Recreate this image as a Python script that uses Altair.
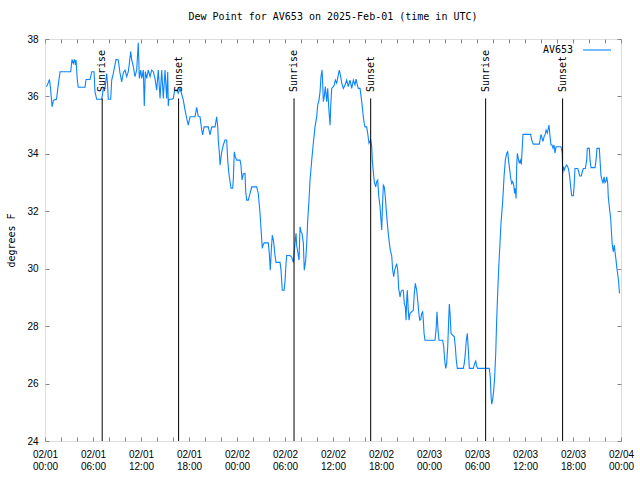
import altair as alt
import pandas as pd

# ---- data ----
hours = [0.19, 0.38, 0.56, 0.69, 0.88, 1.06, 1.44, 1.63, 1.88, 3.21, 3.38, 3.54, 3.69, 3.81, 3.88,
         4.04, 4.16, 5.00, 5.13, 5.63, 5.84, 6.13, 6.25, 6.46, 7.09, 7.29, 7.50, 7.71, 7.81, 7.91,
         8.21, 8.34, 8.54, 8.88, 9.16, 9.38, 9.59, 9.79, 10.00, 10.21, 10.41, 10.54, 10.71, 10.84,
         11.04, 11.25, 11.46, 11.66, 11.79, 11.96, 12.09, 12.29, 12.41, 12.54, 12.71, 12.91, 13.13,
         13.34, 13.54, 13.75, 13.96, 14.16, 14.38, 14.59, 14.79, 15.00, 15.21, 15.34, 15.41, 15.50,
         15.88, 16.04, 16.21, 16.50, 16.66, 16.88, 17.06, 17.29, 17.50, 17.71, 17.91, 18.13, 18.75,
         18.96, 19.16, 19.38, 19.59, 19.71, 19.88, 20.41, 20.63, 20.84, 21.25, 21.46, 21.59, 21.66,
         21.79, 21.88, 22.09, 22.29, 22.50, 22.71, 22.84, 22.96, 23.13, 23.25, 23.46, 23.54, 23.66,
         23.79, 23.96, 24.38, 24.50, 24.63, 24.79, 25.00, 25.09, 25.21, 25.41, 25.63, 25.84, 26.46,
         26.66, 26.88, 27.00, 27.16, 27.29, 27.41, 27.91, 28.04, 28.16, 28.29, 28.41, 28.54, 28.63,
         28.75, 28.88, 29.38, 29.50, 29.66, 29.88, 30.00, 30.13, 30.21, 30.63, 30.84, 31.04, 31.16,
         31.29, 31.38, 31.46, 31.59, 31.75, 31.88, 32.00, 32.13, 32.29, 32.41, 32.59, 32.71, 32.84,
         33.00, 33.13, 33.34, 33.54, 33.75, 33.96, 34.09, 34.25, 34.38, 34.50, 34.63, 34.71, 34.79,
         34.91, 35.04, 35.21, 35.34, 35.46, 35.63, 35.71, 35.84, 36.04, 36.16, 36.29, 36.46, 36.66,
         36.79, 36.96, 37.09, 37.29, 37.50, 37.71, 37.91, 38.13, 38.34, 38.54, 38.75, 38.88, 39.04,
         39.16, 39.38, 39.59, 39.79, 39.91, 40.00, 40.21, 40.34, 40.50, 40.71, 40.84, 40.91, 41.04,
         41.16, 41.34, 41.46, 41.59, 41.71, 41.88, 42.00, 42.09, 42.16, 42.29, 42.41, 42.54, 42.66,
         42.79, 42.91, 43.04, 43.16, 43.34, 43.46, 43.59, 43.71, 43.84, 43.96, 44.09, 44.21, 44.38,
         44.50, 44.63, 44.79, 44.91, 45.04, 45.13, 45.21, 45.29, 45.41, 45.50, 45.63, 45.84, 46.04,
         46.16, 46.29, 46.46, 46.59, 46.71, 46.84, 46.96, 47.09, 47.21, 47.29, 47.38, 47.50, 48.75,
         48.88, 49.00, 49.13, 49.25, 49.71, 49.84, 49.96, 50.09, 50.21, 50.34, 50.46, 50.54, 50.63,
         50.75, 50.91, 51.16, 51.29, 51.41, 51.54, 52.29, 52.41, 52.54, 52.66, 52.79, 52.91, 53.04,
         53.54, 53.71, 53.84, 53.96, 54.09, 55.54, 55.66, 55.75, 55.84, 55.96, 56.09, 56.21, 56.34,
         56.46, 56.59, 56.71, 56.84, 57.00, 57.21, 57.38, 57.54, 57.71, 57.84, 57.96, 58.09, 58.21,
         58.34, 58.46, 58.59, 58.71, 58.79, 58.88, 58.96, 59.04, 59.16, 59.29, 59.41, 59.54, 59.66,
         59.75, 60.71, 60.84, 61.04, 61.79, 61.88, 62.00, 62.13, 62.25, 62.38, 62.50, 62.63, 62.79,
         62.91, 63.00, 63.13, 63.25, 63.38, 63.50, 63.63, 63.75, 63.88, 63.96, 64.50, 64.66, 64.71,
         64.79, 64.91, 65.04, 65.21, 65.34, 65.46, 65.59, 65.71, 65.84, 66.04, 66.13, 66.25, 66.59,
         66.71, 66.84, 67.04, 67.16, 67.29, 67.54, 67.71, 67.79, 68.04, 68.13, 68.25, 68.75, 68.88,
         69.00, 69.29, 69.38, 69.50, 69.63, 69.75, 69.88, 70.00, 70.13, 70.21, 70.34, 70.41, 70.54,
         70.71, 70.79, 70.91, 71.04, 71.16, 71.25, 71.38, 71.46, 71.66, 71.75, 71.81]

dewpoint = [36.34, 36.46, 36.59, 36.30, 35.64, 35.87, 35.90, 36.34, 36.86, 36.86, 37.29, 37.15, 37.29,
            37.10, 37.27, 36.57, 36.32, 36.32, 36.59, 36.59, 36.86, 36.86, 36.16, 35.90, 35.90, 36.28,
            36.28, 36.80, 36.46, 35.90, 35.90, 36.57, 36.80, 37.29, 37.27, 36.80, 36.51, 36.83, 36.92,
            36.69, 36.86, 37.15, 37.56, 37.27, 37.04, 36.69, 36.92, 37.87, 36.63, 36.92, 36.63, 36.92,
            35.67, 36.86, 36.63, 36.92, 36.69, 36.92, 36.86, 36.63, 36.22, 36.92, 35.93, 36.92, 35.93,
            36.92, 35.93, 36.86, 35.67, 35.90, 35.90, 35.93, 36.22, 36.22, 36.11, 36.28, 36.11, 35.87,
            35.53, 35.24, 35.00, 35.29, 35.29, 35.62, 35.30, 35.29, 34.83, 34.66, 34.94, 34.94, 34.66,
            34.94, 34.94, 35.29, 34.94, 34.48, 34.07, 33.61, 34.07, 34.31, 34.48, 34.48, 33.78, 33.38,
            33.03, 32.80, 32.80, 33.10, 34.07, 33.90, 33.78, 33.78, 33.60, 33.09, 33.30, 33.32, 32.68,
            32.39, 32.39, 32.62, 32.85, 32.85, 32.62, 31.93, 31.40, 30.71, 30.85, 30.90, 30.90, 30.53,
            29.95, 30.65, 31.17, 31.00, 30.80, 30.45, 30.22, 30.22, 29.95, 29.25, 29.25, 29.55, 30.20,
            30.46, 30.46, 30.40, 30.22, 30.60, 31.00, 31.23, 30.80, 30.60, 30.30, 31.46, 31.30, 31.23,
            30.90, 29.95, 30.30, 30.85, 31.69, 32.39, 33.09, 33.78, 34.37, 34.94, 35.29, 35.70, 35.87,
            36.16, 36.69, 36.92, 36.46, 35.82, 36.00, 36.34, 35.82, 36.28, 35.64, 35.00, 35.64, 36.28,
            36.34, 36.40, 36.57, 36.46, 36.75, 36.92, 36.69, 36.46, 36.28, 36.40, 36.57, 36.34, 36.57,
            36.28, 36.57, 36.40, 36.60, 36.40, 36.28, 36.28, 35.82, 35.29, 35.06, 34.94, 34.94, 34.71,
            34.37, 34.48, 34.25, 33.78, 33.38, 33.03, 32.85, 33.03, 33.09, 32.56, 32.16, 31.69, 31.35,
            32.00, 32.91, 32.85, 32.50, 32.04, 31.58, 31.23, 30.90, 30.65, 30.45, 29.95, 29.72, 29.95,
            30.07, 30.18, 29.95, 29.31, 29.02, 29.20, 29.25, 29.25, 28.79, 28.67, 28.21, 28.90, 29.25,
            28.55, 28.21, 28.45, 28.50, 28.56, 29.13, 29.49, 29.25, 28.90, 28.50, 28.21, 28.23, 28.45,
            28.50, 28.21, 27.75, 27.51, 27.51, 27.86, 28.50, 27.86, 27.51, 27.51, 27.28, 26.82, 26.53,
            26.70, 27.28, 28.21, 28.77, 28.45, 27.75, 27.70, 27.63, 27.28, 26.82, 26.53, 26.53, 26.70,
            27.05, 27.51, 27.75, 27.20, 26.53, 26.53, 26.70, 26.78, 26.60, 26.53, 26.53, 26.23, 25.60,
            25.28, 25.45, 25.77, 26.23, 27.05, 28.21, 29.19, 30.01, 30.71, 31.58, 32.33, 33.20, 33.78,
            34.02, 34.07, 33.73, 33.44, 33.15, 32.97, 33.03, 32.90, 32.62, 32.80, 32.45, 33.55, 34.02,
            33.84, 33.67, 33.78, 33.63, 34.25, 34.68, 34.68, 34.48, 34.34, 34.34, 34.48, 34.68, 34.55,
            34.43, 34.60, 34.66, 34.83, 34.72, 34.89, 35.00, 34.60, 34.31, 34.31, 34.20, 34.31, 34.02,
            34.25, 34.25, 34.25, 34.02, 33.32, 33.55, 33.44, 33.55, 33.61, 33.55, 33.44, 33.20, 32.85,
            32.54, 32.54, 32.85, 33.49, 33.49, 33.38, 33.23, 33.23, 33.38, 33.49, 33.49, 33.78, 34.19,
            34.19, 33.78, 33.52, 33.52, 33.78, 34.19, 34.19, 33.78, 33.23, 33.09, 32.97, 33.20, 33.00,
            33.05, 33.20, 32.97, 32.50, 32.16, 31.75, 31.35, 30.82, 30.59, 30.82, 30.59, 30.30, 30.07,
            29.66, 29.37, 29.14]

event_hours = [7.15, 16.70, 31.13, 40.71, 55.08, 64.70]
event_labels = ["Sunrise", "Sunset", "Sunrise", "Sunset", "Sunrise", "Sunset"]
event_bottom = 24
event_top = 35.93
event_label_at = 36.15

station = "AV653"
title_text = "Dew Point for AV653 on 2025-Feb-01 (time in UTC)"
y_title = "degrees F"
x_tick_hours = list(range(0, 73, 2))
y_tick_values = list(range(24, 39, 2))

FONT = "DejaVu Sans Mono"
LINE_COLOR = "#0a84ff"

df = pd.DataFrame({"hour": hours, "dewpoint": dewpoint, "station": station})
ev = pd.DataFrame({"hour": event_hours, "label": event_labels,
                   "y0": event_bottom, "y1": event_top, "ylab": event_label_at})

xscale = alt.Scale(domain=[0, 72], nice=False, zero=False)
yscale = alt.Scale(domain=[24, 38], nice=False, zero=False)

label_expr = ("datum.value % 6 == 0 ? ['02/0' + (floor(datum.value / 24) + 1), "
              "(datum.value % 24 < 10 ? '0' : '') + (datum.value % 24) + ':00'] : ''")

x_bottom = alt.Axis(orient="bottom", values=x_tick_hours, labelExpr=label_expr, offset=-4,
                    tickSize=4, domain=False, grid=False, labelPadding=8, labelOverlap=False,
                    labelFlush=False, labelLineHeight=12, title=None)
x_top = alt.Axis(orient="top", values=x_tick_hours, labels=False, offset=-4, tickSize=4,
                 domain=False, grid=False, title=None)
y_left = alt.Axis(orient="left", values=y_tick_values, offset=-4, tickSize=4, domain=False,
                  grid=False, labelPadding=7, title=y_title, titlePadding=10,
                  titleFont=FONT, titleFontSize=10, titleFontWeight="normal", titleColor="black")
y_right = alt.Axis(orient="right", values=y_tick_values, labels=False, offset=-4, tickSize=4,
                   domain=False, grid=False, title=None)

line = alt.Chart(df).mark_line(strokeWidth=1.1).encode(
    x=alt.X("hour:Q", scale=xscale, axis=x_bottom),
    y=alt.Y("dewpoint:Q", scale=yscale, axis=y_left),
    color=alt.Color("station:N",
                    scale=alt.Scale(domain=[station], range=[LINE_COLOR]),
                    legend=alt.Legend(orient="none", legendX=537, legendY={"expr": "-4"},
                                      title=None, symbolType="stroke", symbolSize=784,
                                      symbolStrokeWidth=1.1, labelFont=FONT, labelFontSize=10,
                                      labelAlign="right", labelOffset={"expr": "-39"},
                                      padding=0)),
)

rules = alt.Chart(ev).mark_rule(color="black", strokeWidth=1).encode(
    x=alt.X("hour:Q", scale=xscale, axis=x_top),
    y=alt.Y("y0:Q", scale=yscale, axis=y_right),
    y2="y1:Q",
)

texts = alt.Chart(ev).mark_text(angle=270, align="left", baseline="middle", font=FONT,
                                fontSize=10, color="black").encode(
    x=alt.X("hour:Q", scale=xscale, axis=None),
    y=alt.Y("ylab:Q", scale=yscale, axis=None),
    text="label:N",
)

chart = alt.layer(line, rules, texts).resolve_axis(
    x="independent", y="independent"
).properties(
    width=576, height=402,
    autosize=alt.AutoSizeParams(type="none"),
    padding={"left": 45, "top": 39, "right": 19, "bottom": 39},
    title=alt.TitleParams(title_text, font=FONT, fontSize=10, fontWeight="normal",
                          anchor="middle", color="black", offset=12),
).configure_view(
    stroke="black", strokeWidth=1
).configure_axis(
    labelFont=FONT, labelFontSize=10, labelColor="black", tickColor="black",
    titleFont=FONT, titleFontSize=10, titleFontWeight="normal", titleColor="black"
).configure(background="white")

chart.save("out.html", embed_options={"renderer": "svg", "actions": False})
